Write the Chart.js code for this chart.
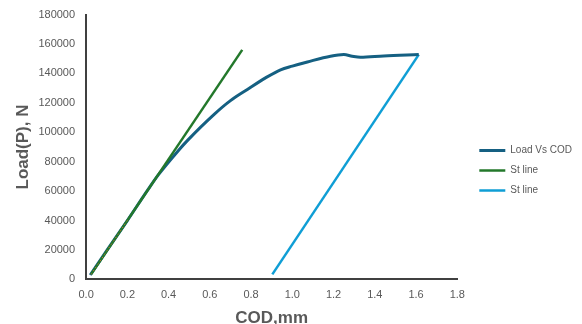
<!DOCTYPE html>
<html>
<head>
<meta charset="utf-8">
<script src="https://cdn.jsdelivr.net/npm/chart.js@4"></script>
<style>
html,body{margin:0;padding:0;background:#fff;}
#wrap{width:582px;height:324px;}
</style>
</head>
<body>
<div id="wrap"><canvas id="c" width="582" height="324"></canvas></div>
<script>
// Load vs COD curve
const codCurve = [0.02, 0.1, 0.2, 0.3, 0.35, 0.45, 0.492, 0.621, 0.70, 0.782, 0.87, 0.943, 1.0, 1.073, 1.185, 1.25, 1.29, 1.33, 1.443, 1.613];
const loadCurve = [3000, 19500, 40000, 61000, 71000, 88000, 94500, 112200, 121500, 129100, 137000, 142500, 145000, 147800, 151700, 152800, 151700, 151000, 151900, 152800];
// St line (green)
const codSt1 = [0.024, 0.757];
const loadSt1 = [3400, 156000];
// St line (light blue)
const codSt2 = [0.903, 1.613];
const loadSt2 = [3400, 152800];
// short orange dotted trace on the green line
const codDot = [0.024, 0.2];
const loadDot = [3400, 40000];

const seriesNames = ['Load Vs COD', 'St line', 'St line'];
const xTicks = [0, 0.2, 0.4, 0.6, 0.8, 1.0, 1.2, 1.4, 1.6, 1.8];
const yTicks = [0, 20000, 40000, 60000, 80000, 100000, 120000, 140000, 160000, 180000];

const pts = (xs, ys) => xs.map((x, i) => ({x: x, y: ys[i]}));

new Chart(document.getElementById('c'), {
  type: 'scatter',
  data: {
    datasets: [
      {label: seriesNames[0], data: pts(codCurve, loadCurve), showLine: true, borderColor: '#156082', backgroundColor: '#156082', borderWidth: 3, pointRadius: 0, tension: 0.4, cubicInterpolationMode: 'monotone', order: 2},
      {label: seriesNames[1], data: pts(codSt1, loadSt1), showLine: true, borderColor: '#23782b', backgroundColor: '#23782b', borderWidth: 2.5, pointRadius: 0, order: 1},
      {label: seriesNames[2], data: pts(codSt2, loadSt2), showLine: true, borderColor: '#0F9ED5', backgroundColor: '#0F9ED5', borderWidth: 2.5, pointRadius: 0, order: 3},
      {label: '', data: pts(codDot, loadDot), showLine: true, borderColor: '#E97132', borderWidth: 1, borderDash: [1, 3], pointRadius: 0, order: 0}
    ]
  },
  options: {
    responsive: false,
    animation: false,
    layout: {padding: {left: 13, right: 0, top: 0, bottom: 0}},
    plugins: {
      tooltip: {enabled: false},
      legend: {
        position: 'right',
        align: 'center',
        maxWidth: 130,
        title: {display: true, text: ' ', font: {size: 14}, padding: 0},
        labels: {
          filter: (item) => item.datasetIndex < 3,
          sort: (a, b) => a.datasetIndex - b.datasetIndex,
          usePointStyle: true,
          pointStyle: 'line',
          pointStyleWidth: 26,
          boxHeight: 10,
          color: '#595959',
          padding: 10,
          font: {family: 'Liberation Sans', size: 10}
        }
      }
    },
    scales: {
      x: {
        type: 'linear',
        min: 0, max: 1.8,
        afterBuildTicks: (ax) => { ax.ticks = xTicks.map(v => ({value: v})); },
        grid: {display: false, drawTicks: false},
        border: {display: true, color: '#404040', width: 2},
        ticks: {color: '#595959', font: {family: 'Liberation Sans', size: 11}, padding: 9, maxRotation: 0, callback: (v) => Number(v).toFixed(1)},
        title: {display: true, text: 'COD,mm', color: '#595959', font: {family: 'Liberation Sans', size: 17, weight: 'bold'}, padding: {top: -2, bottom: -5}}
      },
      y: {
        type: 'linear',
        min: 0, max: 180000,
        afterBuildTicks: (ax) => { ax.ticks = yTicks.map(v => ({value: v})); },
        grid: {display: false, drawTicks: true, tickLength: 3},
        border: {display: true, color: '#404040', width: 2},
        ticks: {color: '#595959', font: {family: 'Liberation Sans', size: 11}, padding: 8, callback: (v) => String(v)},
        title: {display: true, text: 'Load(P), N', color: '#595959', font: {family: 'Liberation Sans', size: 17, weight: 'bold'}, padding: {top: 0, bottom: -3}}
      },
      gap: {
        type: 'linear',
        position: 'right',
        display: true,
        grid: {display: false, drawTicks: false},
        border: {display: false},
        ticks: {display: false},
        afterFit: (s) => { s.width = 12; }
      }
    }
  }
});
</script>
</body>
</html>
